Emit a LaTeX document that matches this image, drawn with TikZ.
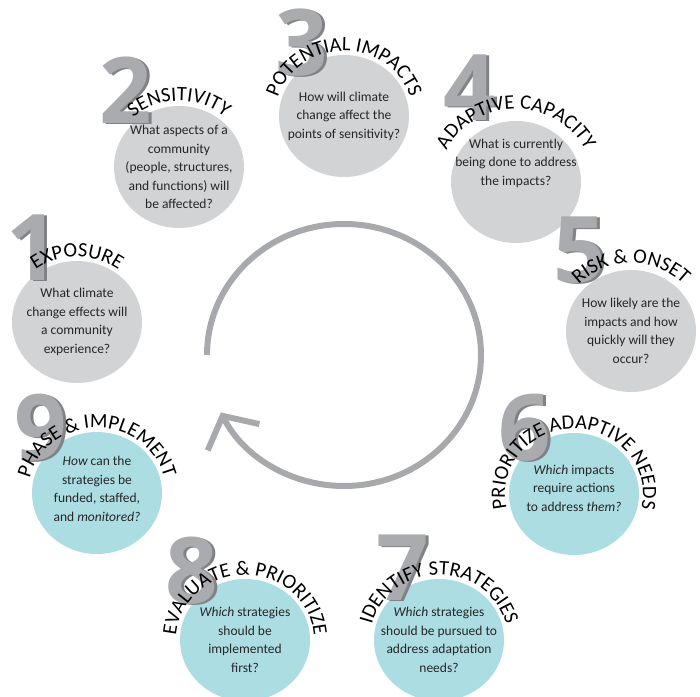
\documentclass[tikz,border=0pt]{standalone}
\usepackage{fontspec}
\setmainfont{Carlito}
\newfontfamily\numfam{Open Sans}
\usetikzlibrary{decorations.text,arrows.meta,calc,shapes.geometric}
\definecolor{discgray}{HTML}{D1D3D4}
\definecolor{discteal}{HTML}{ACDDE3}
\definecolor{numgray}{HTML}{A9ABAE}
\definecolor{numdark}{HTML}{808285}
\definecolor{arrgray}{HTML}{A7A9AC}
\newcommand\ttlfont{\fontsize{20.5}{22}\selectfont}
\newcommand\ArcTitle[3][0]{%
  \path[decorate,decoration={text along path,text align=center,text={|\ttlfont|#3}}]
    (#2.center) ++(220:{69+#1} and {65+#1}) arc[start angle=220,end angle=-40,x radius={69+#1},y radius={65+#1}];}
\newcommand\BigNum[3]{%
  \node[numtxt,text=numdark] at ($(#1)+(3,-1)$) {#3};
  \node[numtxt,text=numgray] (#2) at (#1) {#3};}
\begin{document}
\begin{tikzpicture}[x=1pt,y=1pt,
  disc/.style={ellipse,minimum width=130,minimum height=122,inner sep=0,draw=none},
  gdisc/.style={disc,fill=discgray},
  tdisc/.style={disc,fill=discteal},
  numtxt/.style={inner sep=0,font=\numfam\bfseries\fontsize{92}{92}\selectfont},
  qtext/.style={align=center,inner sep=0,font=\fontsize{13.5}{18.5}\selectfont,text=black!85},
  arrline/.style={draw=arrgray,line width=6pt}]
\useasboundingbox (0,0) rectangle (700,696);
% discs
\node[gdisc] (d1) at (77,374) {};
\node[gdisc] (d2) at (179,529) {};
\node[gdisc] (d3) at (344,580) {};
\node[gdisc] (d4) at (516,514) {};
\node[gdisc] (d5) at (631,365) {};
\node[tdisc] (d6) at (574,202) {};
\node[tdisc] (d7) at (439,56) {};
\node[tdisc] (d8) at (245,56) {};
\node[tdisc] (d9) at (97,203) {};
% numbers
\BigNum{33,448}{n1}{1}
\BigNum{126,606}{n2}{2}
\BigNum{302,653}{n3}{3}
\BigNum{470,608}{n4}{4}
\BigNum{580,446}{n5}{5}
\BigNum{525,268}{n6}{6}
\BigNum{403,128}{n7}{7}
\BigNum{192,125}{n8}{8}
\BigNum{41,268}{n9}{9}
% titles
\ArcTitle{d1}{EXPOSURE}
\ArcTitle[1]{d2}{SENSITIVITY}
\ArcTitle{d3}{POTENTIAL IMPACTS}
\ArcTitle[8]{d4}{ADAPTIVE CAPACITY}
\ArcTitle[3]{d5}{RISK {\&} ONSET}
\ArcTitle{d6}{PRIORITIZE ADAPTIVE NEEDS}
\ArcTitle{d7}{IDENTIFY STRATEGIES}
\ArcTitle{d8}{EVALUATE {\&} PRIORITIZE}
\ArcTitle{d9}{PHASE {\&} IMPLEMENT}
% questions
\node[qtext] (q1) at (d1) {What climate\\change effects will\\a community\\experience?};
\node[qtext] (q2) at (d2) {What aspects of a\\community\\(people, structures,\\and functions) will\\be affected?};
\node[qtext] (q3) at (d3) {How will climate\\change affect the\\points of sensitivity?};
\node[qtext] (q4) at ($(d4)+(0,19)$) {What is currently\\being done to address\\the impacts?};
\node[qtext] (q5) at (d5) {How likely are the\\impacts and how\\quickly will they\\occur?};
\node[qtext] (q6) at ($(d6)+(0,6)$) {{\itshape Which} impacts\\require actions\\to address {\itshape them?}};
\node[qtext] (q7) at (d7) {{\itshape Which} strategies\\should be pursued to\\address adaptation\\needs?};
\node[qtext] (q8) at (d8) {{\itshape Which} strategies\\should be\\implemented\\first?};
\node[qtext] (q9) at ($(d9)+(0,4)$) {{\itshape How} can the\\strategies be\\funded, staffed,\\and {\itshape monitored?}};
% cycle arrow
\coordinate (ac) at (344,341);
\draw[arrline,-{Straight Barb[length=24pt,width=58pt]}] (ac) ++(180:137 and 131)
  arc[start angle=180,end angle=-154,x radius=137,y radius=131];
\end{tikzpicture}
\end{document}
